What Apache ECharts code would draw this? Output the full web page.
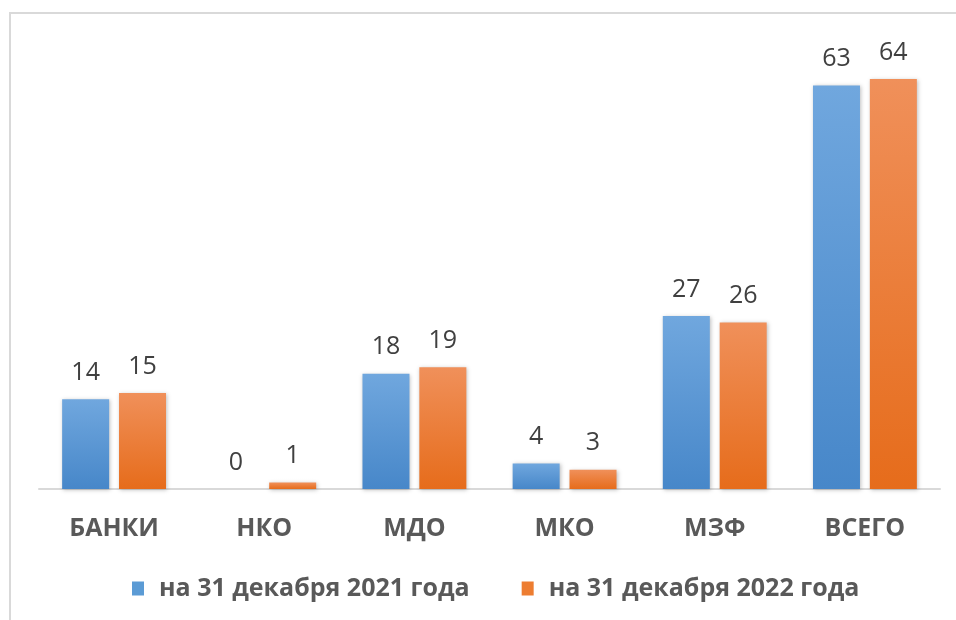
<!DOCTYPE html>
<html>
<head>
<meta charset="utf-8">
<script src="https://cdn.jsdelivr.net/npm/echarts@6/dist/echarts.min.js"></script>
<style>
    html, body { margin: 0; padding: 0; background: #fff; overflow: hidden; }
    #chart { position: absolute; left: 0; top: 0; width: 956px; height: 620px; }
    #frame { position: absolute; left: 9px; top: 12px; width: 980px; height: 640px;
             border: 2px solid #d9d9d9; pointer-events: none; }
</style>
</head>
<body>
<div id="chart"></div>
<div id="frame"></div>
<script>
    var categories = ['БАНКИ', 'НКО', 'МДО', 'МКО', 'МЗФ', 'ВСЕГО'];
    var seriesNames = ['на 31 декабря 2021 года', 'на 31 декабря 2022 года'];
    var values2021 = [14, 0, 18, 4, 27, 63];
    var values2022 = [15, 1, 19, 3, 26, 64];

    var grad = function (top, bottom) {
        return new echarts.graphic.LinearGradient(0, 0, 0, 1, [
            { offset: 0, color: top },
            { offset: 1, color: bottom }
        ]);
    };

    var blue = grad('#70a7de', '#4787c9');
    var orange = grad('#f0905a', '#e66c1b');

    var makeSeries = function (name, data, color) {
        return {
            name: name,
            type: 'bar',
            data: data,
            barWidth: 47,
            barGap: '21%',
            itemStyle: {
                color: color,
                shadowColor: 'rgba(0,0,0,0.25)',
                shadowBlur: 4,
                shadowOffsetX: 1,
                shadowOffsetY: 1
            },
            label: {
                show: true,
                position: 'top',
                distance: 14,
                color: '#404040',
                fontFamily: 'Open Sans',
                fontSize: 25
            }
        };
    };

    var myChart = echarts.init(document.getElementById('chart'));

    var option = {
        animation: false,
        backgroundColor: '#fff',
        grid: { left: 39, right: 16, top: 40.6, bottom: 131 },
        legend: {
            left: 127,
            top: 571,
            itemWidth: 12,
            itemHeight: 14,
            itemGap: 52,
            icon: 'rect',
            textStyle: {
                color: '#595959',
                fontFamily: 'Open Sans',
                fontWeight: 'bold',
                fontSize: 25,
                padding: [0, 0, 0, 10]
            },
            data: [
                { name: seriesNames[0], itemStyle: { color: '#5b9bd5' } },
                { name: seriesNames[1], itemStyle: { color: '#ed7d31' } }
            ]
        },
        xAxis: {
            type: 'category',
            data: categories,
            axisLine: { lineStyle: { color: '#d9d9d9', width: 2 } },
            axisTick: { show: false },
            axisLabel: {
                color: '#595959',
                fontFamily: 'Open Sans',
                fontWeight: 'bold',
                fontSize: 25,
                margin: 27
            }
        },
        yAxis: {
            type: 'value',
            min: 0,
            max: 70,
            show: false,
            splitLine: { show: false }
        },
        series: [
            makeSeries(seriesNames[0], values2021, blue),
            makeSeries(seriesNames[1], values2022, orange)
        ]
    };

    myChart.setOption(option);
</script>
</body>
</html>
